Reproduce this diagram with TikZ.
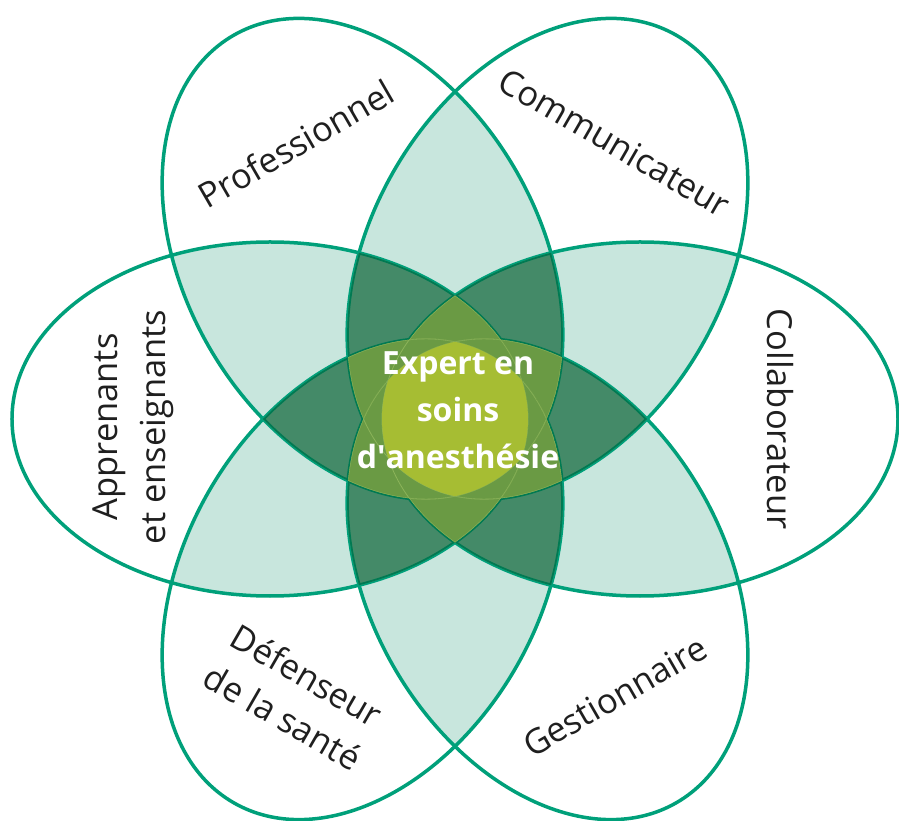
\documentclass[tikz,border=0pt]{standalone}
\usepackage{fontspec}
\setmainfont{Open Sans}
\definecolor{petalline}{RGB}{0,160,122}
\definecolor{overlap}{RGB}{200,230,221}
\definecolor{deep}{RGB}{68,138,104}
\definecolor{deepline}{RGB}{0,122,82}
\definecolor{olive}{RGB}{106,154,68}
\definecolor{oliveline}{RGB}{140,180,90}
\definecolor{core}{RGB}{166,189,51}

\begin{document}
\begin{tikzpicture}[x=1pt, y=1pt]
   \tikzstyle{petal}=[shift={(#1*60:185)}, rotate=#1*60]
   \tikzstyle{oval}=[x radius=258, y radius=177]
   \tikzstyle{role}=[font=\fontsize{34.5}{48}\selectfont, align=center, text=black!88]
   \tikzstyle{expert}=[font=\fontsize{32}{47}\selectfont\bfseries, align=center, text=white]

\useasboundingbox (-455,-402) rectangle (444,419);

% two petals overlap
\foreach \i in {0,...,4}{
    \pgfmathtruncatemacro\ja{\i+1}
    \foreach \j in {\ja,...,5}{
        \begin{scope}
            \clip[petal=\i] (0,0) ellipse [oval];
            \fill[overlap, petal=\j] (0,0) ellipse [oval];
        \end{scope}
    }
}

% outlines
\foreach \i in {0,...,5}
    \draw[petalline, line width=3.5, petal=\i] (0,0) ellipse [oval];

% three petals overlap
\foreach \i in {0,...,3}{
    \pgfmathtruncatemacro\ja{\i+1}
    \foreach \j in {\ja,...,4}{
        \pgfmathtruncatemacro\ka{\j+1}
        \foreach \k in {\ka,...,5}{
            \begin{scope}
                \clip[petal=\i] (0,0) ellipse [oval];
                \clip[petal=\j] (0,0) ellipse [oval];
                \clip[petal=\k] (0,0) ellipse [oval];
                \fill[deep] (-300,-300) rectangle (300,300);
                \foreach \m in {0,...,5}
                    \draw[deepline, line width=3.5, petal=\m] (0,0) ellipse [oval];
            \end{scope}
        }
    }
}

% four petals and more
\foreach \i in {0,...,2}{
    \pgfmathtruncatemacro\ja{\i+1}
    \foreach \j in {\ja,...,3}{
        \pgfmathtruncatemacro\ka{\j+1}
        \foreach \k in {\ka,...,4}{
            \pgfmathtruncatemacro\la{\k+1}
            \foreach \l in {\la,...,5}{
                \begin{scope}
                    \clip[petal=\i] (0,0) ellipse [oval];
                    \clip[petal=\j] (0,0) ellipse [oval];
                    \clip[petal=\k] (0,0) ellipse [oval];
                    \clip[petal=\l] (0,0) ellipse [oval];
                    \fill[olive] (-300,-300) rectangle (300,300);
                    \foreach \m in {0,...,5}
                        \draw[oliveline, line width=0.8, petal=\m] (0,0) ellipse [oval];
                \end{scope}
            }
        }
    }
}

% all six
\begin{scope}
    \foreach \m in {0,...,5}
        \clip[petal=\m] (0,0) ellipse [oval];
    \fill[core] (-300,-300) rectangle (300,300);
\end{scope}

\node[role, rotate=30] (prof) at (120:318) {Professionnel};
\node[role, rotate=-30] (comm) at (60:319) {Communicateur};
\node[role, rotate=-90] (coll) at (0:325) {Collaborateur};
\node[role, rotate=30] (gest) at (300:320) {Gestionnaire};
\node[role, rotate=-30] (defs) at (240:320) {Défenseur\\de la santé};
\node[role, rotate=90] (appr) at (-322,-8) {Apprenants\\et enseignants};
\node[expert] (expert) at (3,9) {Expert en\\soins\\d\textquotesingle anesthésie};

\end{tikzpicture}
\end{document}
